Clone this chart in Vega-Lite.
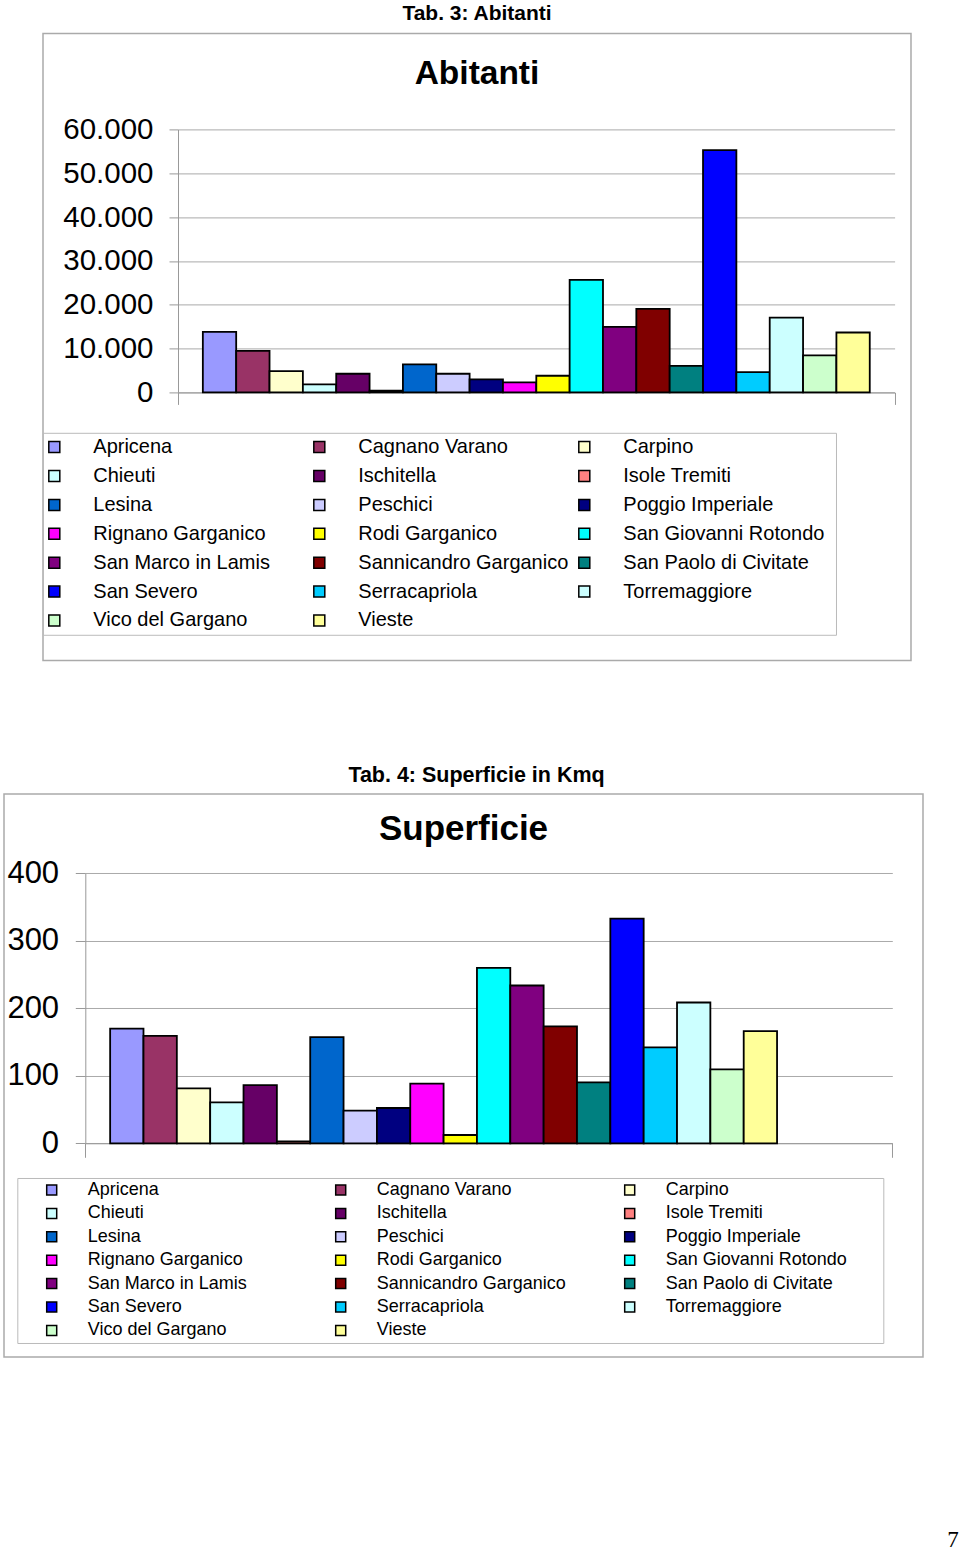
{
  "$schema": "https://vega.github.io/schema/vega-lite/v6.json",
  "background": "white",
  "padding": {"left": 3, "top": 2.4, "right": 0, "bottom": 0},
  "title": {"text": "7", "orient": "bottom", "anchor": "end", "offset": 171, "dx": 35, "font": "Liberation Serif", "fontSize": 23, "fontWeight": "normal", "color": "black"},
  "spacing": 102.6,
  "config": {
    "font": "Liberation Sans",
    "axis": {"labelColor": "black", "labelFont": "Liberation Sans", "domainColor": "#999999", "tickColor": "#999999", "gridColor": "#aaaaaa", "domainWidth": 1, "tickWidth": 1, "gridWidth": 1}
  },
  "vconcat": [
    {
      "spacing": 36,
      "resolve": {"scale": {"color": "independent"}, "legend": {"color": "independent"}},
      "hconcat": [
        {
          "width": 1,
          "height": 1,
          "view": {"stroke": null},
          "data": {"values": []},
          "mark": "rect",
          "encoding": {}
        },
        {
          "width": 868,
          "height": 627,
          "view": {"stroke": "#aaaaaa", "strokeWidth": 1.5},
          "title": {"text": "Tab. 3: Abitanti", "subtitle": "Abitanti", "anchor": "middle", "frame": "group", "offset": -56.7, "subtitlePadding": 33.1, "font": "Liberation Sans", "fontSize": 21, "fontWeight": "bold", "color": "black", "subtitleFont": "Liberation Sans", "subtitleFontSize": 33.5, "subtitleFontWeight": "bold", "subtitleColor": "black"},
          "data": {"values": [
            {"Indicatore": "Abitanti", "Comune": "Apricena", "Valore": 13820},
            {"Indicatore": "Abitanti", "Comune": "Cagnano Varano", "Valore": 9490},
            {"Indicatore": "Abitanti", "Comune": "Carpino", "Valore": 4860},
            {"Indicatore": "Abitanti", "Comune": "Chieuti", "Valore": 1820},
            {"Indicatore": "Abitanti", "Comune": "Ischitella", "Valore": 4250},
            {"Indicatore": "Abitanti", "Comune": "Isole Tremiti", "Valore": 380},
            {"Indicatore": "Abitanti", "Comune": "Lesina", "Valore": 6380},
            {"Indicatore": "Abitanti", "Comune": "Peschici", "Valore": 4250},
            {"Indicatore": "Abitanti", "Comune": "Poggio Imperiale", "Valore": 2960},
            {"Indicatore": "Abitanti", "Comune": "Rignano Garganico", "Valore": 2280},
            {"Indicatore": "Abitanti", "Comune": "Rodi Garganico", "Valore": 3800},
            {"Indicatore": "Abitanti", "Comune": "San Giovanni Rotondo", "Valore": 25660},
            {"Indicatore": "Abitanti", "Comune": "San Marco in Lamis", "Valore": 14960},
            {"Indicatore": "Abitanti", "Comune": "Sannicandro Garganico", "Valore": 19060},
            {"Indicatore": "Abitanti", "Comune": "San Paolo di Civitate", "Valore": 6070},
            {"Indicatore": "Abitanti", "Comune": "San Severo", "Valore": 55280},
            {"Indicatore": "Abitanti", "Comune": "Serracapriola", "Valore": 4630},
            {"Indicatore": "Abitanti", "Comune": "Torremaggiore", "Valore": 17080},
            {"Indicatore": "Abitanti", "Comune": "Vico del Gargano", "Valore": 8430},
            {"Indicatore": "Abitanti", "Comune": "Vieste", "Valore": 13670}
          ]},
          "mark": {"type": "bar", "stroke": "black", "strokeWidth": 1.8},
          "encoding": {
            "x": {"field": "Indicatore", "type": "nominal", "scale": {"range": [135, 851.6], "paddingInner": 0, "paddingOuter": 0}, "axis": {"orient": "bottom", "offset": -268, "labels": false, "ticks": true, "tickBand": "extent", "tickSize": 12, "grid": false, "title": null}},
            "xOffset": {"field": "Comune", "type": "nominal", "sort": null, "scale": {"paddingInner": 0, "paddingOuter": 0.745}},
            "y": {"field": "Valore", "type": "quantitative", "scale": {"domain": [0, 60000], "range": [359, 96], "nice": false}, "axis": {"orient": "left", "offset": -135, "values": [0, 10000, 20000, 30000, 40000, 50000, 60000], "labelExpr": "replace(format(datum.value, ','), ',', '.')", "labelFontSize": 29.5, "labelPadding": 16, "tickSize": 9, "grid": true, "title": null}},
            "color": {"field": "Comune", "type": "nominal",
              "scale": {
                "domain": ["Apricena", "Cagnano Varano", "Carpino", "Chieuti", "Ischitella", "Isole Tremiti", "Lesina", "Peschici", "Poggio Imperiale", "Rignano Garganico", "Rodi Garganico", "San Giovanni Rotondo", "San Marco in Lamis", "Sannicandro Garganico", "San Paolo di Civitate", "San Severo", "Serracapriola", "Torremaggiore", "Vico del Gargano", "Vieste"],
                "range": ["#9999FF", "#993366", "#FFFFCC", "#CCFFFF", "#660066", "#FF8080", "#0066CC", "#CCCCFF", "#000080", "#FF00FF", "#FFFF00", "#00FFFF", "#800080", "#800000", "#008080", "#0000FF", "#00CCFF", "#CCFFFF", "#CCFFCC", "#FFFF99"]
              },
              "legend": {"values": ["Apricena", "Chieuti", "Lesina", "Rignano Garganico", "San Marco in Lamis", "San Severo", "Vico del Gargano", "Cagnano Varano", "Ischitella", "Peschici", "Rodi Garganico", "Sannicandro Garganico", "Serracapriola", "Vieste", "Carpino", "Isole Tremiti", "Poggio Imperiale", "San Giovanni Rotondo", "San Paolo di Civitate", "Torremaggiore"], "orient": "none", "legendX": 0, "legendY": 399.4, "columns": 3, "gridAlign": "all", "title": " ", "titleOrient": "right", "titlePadding": 7, "titleFontSize": 20, "symbolType": "square", "symbolSize": 121, "symbolStrokeColor": "black", "symbolStrokeWidth": 1.5, "symbolOpacity": 1, "symbolOffset": -3, "labelFont": "Liberation Sans", "labelFontSize": 20, "labelColor": "black", "labelOffset": 29, "labelLimit": 400, "rowPadding": 8.9, "columnPadding": 6, "padding": 4.3, "strokeColor": "#bbbbbb"}
            }
          }
        }
      ]
    },
    {
      "title": {"text": "Tab. 4:  Superficie in Kmq", "anchor": "middle", "frame": "bounds", "offset": 7.2, "dx": 13, "font": "Liberation Sans", "fontSize": 21.5, "fontWeight": "bold", "color": "black"},
      "resolve": {"scale": {"color": "independent"}, "legend": {"color": "independent"}},
      "vconcat": [
        {
          "width": 919,
          "height": 563,
          "view": {"stroke": "#aaaaaa", "strokeWidth": 1.5},
          "title": {"text": "Superficie", "anchor": "middle", "frame": "group", "offset": -53.35, "font": "Liberation Sans", "fontSize": 35, "fontWeight": "bold", "color": "black"},
          "data": {"values": [
            {"Indicatore": "Superficie", "Comune": "Apricena", "Valore": 170},
            {"Indicatore": "Superficie", "Comune": "Cagnano Varano", "Valore": 159},
            {"Indicatore": "Superficie", "Comune": "Carpino", "Valore": 81.4},
            {"Indicatore": "Superficie", "Comune": "Chieuti", "Valore": 60.7},
            {"Indicatore": "Superficie", "Comune": "Ischitella", "Valore": 86.3},
            {"Indicatore": "Superficie", "Comune": "Isole Tremiti", "Valore": 2.8},
            {"Indicatore": "Superficie", "Comune": "Lesina", "Valore": 157.3},
            {"Indicatore": "Superficie", "Comune": "Peschici", "Valore": 48.3},
            {"Indicatore": "Superficie", "Comune": "Poggio Imperiale", "Valore": 52.3},
            {"Indicatore": "Superficie", "Comune": "Rignano Garganico", "Valore": 88.3},
            {"Indicatore": "Superficie", "Comune": "Rodi Garganico", "Valore": 12.3},
            {"Indicatore": "Superficie", "Comune": "San Giovanni Rotondo", "Valore": 259.9},
            {"Indicatore": "Superficie", "Comune": "San Marco in Lamis", "Valore": 233.8},
            {"Indicatore": "Superficie", "Comune": "Sannicandro Garganico", "Valore": 173.1},
            {"Indicatore": "Superficie", "Comune": "San Paolo di Civitate", "Valore": 90.3},
            {"Indicatore": "Superficie", "Comune": "San Severo", "Valore": 332.9},
            {"Indicatore": "Superficie", "Comune": "Serracapriola", "Valore": 142},
            {"Indicatore": "Superficie", "Comune": "Torremaggiore", "Valore": 208.6},
            {"Indicatore": "Superficie", "Comune": "Vico del Gargano", "Valore": 109.5},
            {"Indicatore": "Superficie", "Comune": "Vieste", "Valore": 166.2}
          ]},
          "mark": {"type": "bar", "stroke": "black", "strokeWidth": 1.8},
          "encoding": {
            "x": {"field": "Indicatore", "type": "nominal", "scale": {"range": [81.3, 888.3], "paddingInner": 0, "paddingOuter": 0}, "axis": {"orient": "bottom", "offset": -213.7, "labels": false, "ticks": true, "tickBand": "extent", "tickSize": 14, "grid": false, "title": null}},
            "xOffset": {"field": "Comune", "type": "nominal", "sort": null, "scale": {"paddingInner": 0, "paddingOuter": 0.73}},
            "y": {"field": "Valore", "type": "quantitative", "scale": {"domain": [0, 400], "range": [349.3, 79.3], "nice": false}, "axis": {"orient": "left", "offset": -81.3, "values": [0, 100, 200, 300, 400], "labelFontSize": 31, "labelPadding": 16.7, "tickSize": 10, "grid": true, "title": null}},
            "color": {"field": "Comune", "type": "nominal",
              "scale": {
                "domain": ["Apricena", "Cagnano Varano", "Carpino", "Chieuti", "Ischitella", "Isole Tremiti", "Lesina", "Peschici", "Poggio Imperiale", "Rignano Garganico", "Rodi Garganico", "San Giovanni Rotondo", "San Marco in Lamis", "Sannicandro Garganico", "San Paolo di Civitate", "San Severo", "Serracapriola", "Torremaggiore", "Vico del Gargano", "Vieste"],
                "range": ["#9999FF", "#993366", "#FFFFCC", "#CCFFFF", "#660066", "#FF8080", "#0066CC", "#CCCCFF", "#000080", "#FF00FF", "#FFFF00", "#00FFFF", "#800080", "#800000", "#008080", "#0000FF", "#00CCFF", "#CCFFFF", "#CCFFCC", "#FFFF99"]
              },
              "legend": {"values": ["Apricena", "Chieuti", "Lesina", "Rignano Garganico", "San Marco in Lamis", "San Severo", "Vico del Gargano", "Cagnano Varano", "Ischitella", "Peschici", "Rodi Garganico", "Sannicandro Garganico", "Serracapriola", "Vieste", "Carpino", "Isole Tremiti", "Poggio Imperiale", "San Giovanni Rotondo", "San Paolo di Civitate", "Torremaggiore"], "orient": "none", "legendX": 13.3, "legendY": 384, "columns": 3, "gridAlign": "all", "title": " ", "titleOrient": "right", "titlePadding": 33, "titleFontSize": 18, "symbolType": "square", "symbolSize": 100, "symbolStrokeColor": "black", "symbolStrokeWidth": 1.5, "symbolOpacity": 1, "symbolOffset": 22.4, "labelFont": "Liberation Sans", "labelFontSize": 18, "labelColor": "black", "labelOffset": 27.1, "labelLimit": 400, "rowPadding": 5.4, "columnPadding": 32, "padding": 3, "strokeColor": "#bbbbbb"}
            }
          }
        }
      ]
    }
  ],
  "resolve": {"scale": {"color": "independent"}, "legend": {"color": "independent"}}
}
